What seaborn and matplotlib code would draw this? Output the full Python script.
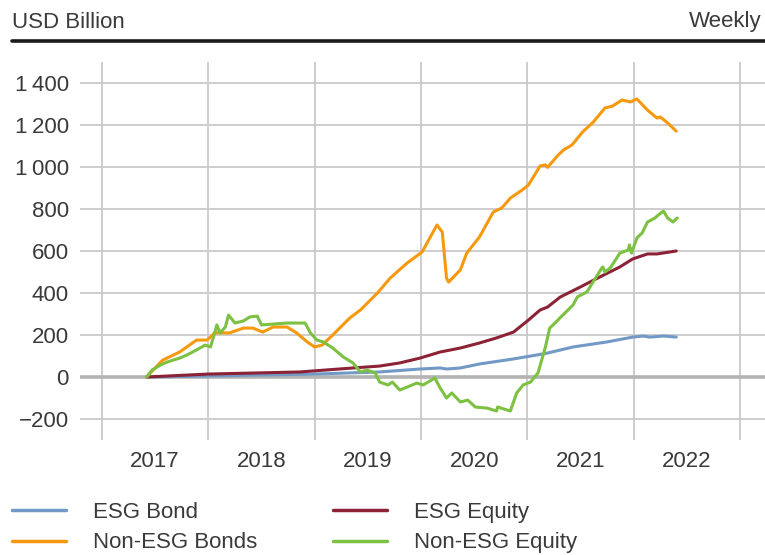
import matplotlib.pyplot as plt
import matplotlib.ticker as mticker
from matplotlib.lines import Line2D
import seaborn as sns
import pandas as pd

# ---- data (USD bn; x = decimal year) ----
esg_bond_x = [2017.42, 2018.00, 2019.00, 2019.61, 2019.99, 2020.18, 2020.24, 2020.37,
              2020.55, 2020.87, 2021.09, 2021.19, 2021.43, 2021.75, 2021.99, 2022.09,
              2022.15, 2022.28, 2022.40]
esg_bond_y = [0, 5, 14, 24, 38, 43, 38, 43, 62, 86, 105, 114, 143, 167, 190, 195, 190, 195, 190]

esg_equity_x = [2017.42, 2018.00, 2018.86, 2019.36, 2019.61, 2019.80, 2019.99, 2020.18,
                2020.37, 2020.55, 2020.71, 2020.87, 2021.01, 2021.12, 2021.19, 2021.31,
                2021.50, 2021.68, 2021.87, 2021.99, 2022.13, 2022.22, 2022.40]
esg_equity_y = [0, 14, 24, 43, 52, 67, 90, 119, 138, 162, 186, 214, 271, 319, 333, 381,
                429, 476, 524, 562, 586, 586, 600]

nonesg_bonds_x = [2017.42, 2017.55, 2017.57, 2017.73, 2017.89, 2017.99, 2018.06, 2018.20,
                  2018.33, 2018.42, 2018.51, 2018.61, 2018.74, 2018.83, 2018.93, 2019.00,
                  2019.07, 2019.17, 2019.33, 2019.43, 2019.59, 2019.71, 2019.87, 2020.01,
                  2020.15, 2020.20, 2020.24, 2020.26, 2020.37, 2020.43, 2020.55, 2020.68,
                  2020.76, 2020.84, 2020.95, 2021.01, 2021.12, 2021.17, 2021.19, 2021.29,
                  2021.34, 2021.42, 2021.52, 2021.62, 2021.73, 2021.80, 2021.89, 2021.97,
                  2022.03, 2022.13, 2022.22, 2022.25, 2022.31, 2022.40]
nonesg_bonds_y = [0, 70, 80, 119, 176, 176, 210, 210, 233, 233, 214, 238, 238, 210, 167, 143,
                  152, 200, 281, 319, 400, 471, 543, 595, 724, 690, 471, 452, 510, 590, 667,
                  786, 805, 852, 890, 914, 1005, 1010, 998, 1057, 1081, 1105, 1167, 1214,
                  1281, 1290, 1319, 1310, 1324, 1271, 1233, 1238, 1214, 1171]

nonesg_equity_x = [2017.42, 2017.47, 2017.55, 2017.61, 2017.73, 2017.80, 2017.89, 2017.97,
                   2018.02, 2018.06, 2018.08, 2018.11, 2018.16, 2018.19, 2018.25, 2018.33,
                   2018.39, 2018.46, 2018.50, 2018.61, 2018.74, 2018.83, 2018.91, 2018.96,
                   2019.02, 2019.08, 2019.17, 2019.27, 2019.36, 2019.43, 2019.49, 2019.57,
                   2019.61, 2019.69, 2019.73, 2019.80, 2019.87, 2019.96, 2020.02, 2020.13,
                   2020.18, 2020.24, 2020.29, 2020.37, 2020.44, 2020.51, 2020.62, 2020.71,
                   2020.72, 2020.84, 2020.90, 2020.96, 2021.03, 2021.10, 2021.17, 2021.21,
                   2021.26, 2021.31, 2021.43, 2021.47, 2021.56, 2021.70, 2021.71, 2021.73,
                   2021.78, 2021.87, 2021.95, 2021.96, 2021.98, 2022.03, 2022.08, 2022.13,
                   2022.20, 2022.23, 2022.28, 2022.32, 2022.37, 2022.41]
nonesg_equity_y = [0, 33, 57, 71, 90, 105, 129, 152, 143, 210, 248, 210, 238, 295, 257, 267,
                   286, 290, 248, 252, 257, 257, 257, 210, 176, 167, 138, 95, 67, 24, 33, 19,
                   -24, -38, -24, -62, -48, -29, -38, -5, -52, -100, -76, -119, -110, -143,
                   -148, -162, -143, -162, -76, -38, -24, 19, 143, 233, 257, 283, 343, 381,
                   405, 519, 524, 500, 519, 590, 605, 629, 590, 662, 686, 738, 757, 771,
                   790, 757, 738, 757]

series_names = ["ESG Bond", "ESG Equity", "Non-ESG Bonds", "Non-ESG Equity"]
colors = ["#7299c6", "#8b2236", "#f7990f", "#7cc142"]
years = [2017, 2018, 2019, 2020, 2021, 2022]
y_ticks = [-200, 0, 200, 400, 600, 800, 1000, 1200, 1400]

frames = []
for name, xs, ys in zip(series_names,
                        [esg_bond_x, esg_equity_x, nonesg_bonds_x, nonesg_equity_x],
                        [esg_bond_y, esg_equity_y, nonesg_bonds_y, nonesg_equity_y]):
    frames.append(pd.DataFrame({"year": xs, "value": ys, "series": name}))
df = pd.concat(frames, ignore_index=True)

# ---- style ----
sns.set_theme(style="white")
plt.rcParams["font.family"] = ["Liberation Sans", "DejaVu Sans"]
text_col = "#3a3a3a"
fs = 16

fig = plt.figure(figsize=(7.65, 5.55), dpi=100)
ax = fig.add_axes([80 / 765, 1 - 440 / 555, 685 / 765, 378 / 555])

sns.lineplot(data=df, x="year", y="value", hue="series", hue_order=series_names,
             palette=dict(zip(series_names, colors)), estimator=None, sort=True,
             linewidth=2.2, legend=False, ax=ax, zorder=3)

ax.set_xlim(2016.793, 2023.235)
ax.set_ylim(-300, 1500)

# year boundaries as gridlines, labels centred in each year
ax.xaxis.set_major_locator(mticker.FixedLocator(list(range(2017, 2024))))
ax.xaxis.set_major_formatter(mticker.NullFormatter())
ax.xaxis.set_minor_locator(mticker.FixedLocator([y + 0.5 for y in years]))
ax.xaxis.set_minor_formatter(mticker.FixedFormatter([str(y) for y in years]))
ax.tick_params(axis="x", which="both", length=0, pad=8, labelsize=fs, labelcolor=text_col)

ax.set_yticks(y_ticks)
def fmt(v, pos):
    s = f"{abs(int(v)):,}".replace(",", "\u2009")
    return ("\u2212" if v < 0 else "") + s
ax.yaxis.set_major_formatter(mticker.FuncFormatter(fmt))
ax.tick_params(axis="y", length=0, pad=8, labelsize=fs, labelcolor=text_col)

ax.grid(True, which="major", color="#c9c9c9", linewidth=1.3)
ax.axhline(0, color="#b3b3b3", linewidth=2.6, zorder=2)
for s in ax.spines.values():
    s.set_visible(False)
ax.set_xlabel("")
ax.set_ylabel("")

# header
fig.text(12 / 765, 1 - 22 / 555, "USD Billion", ha="left", va="center",
         fontsize=fs, color=text_col)
fig.text(762 / 765, 1 - 22 / 555, "Weekly", ha="right", va="center",
         fontsize=fs, color=text_col)
fig.add_artist(Line2D([12 / 765, 1.0], [1 - 41 / 555, 1 - 41 / 555],
                      transform=fig.transFigure, color="#1a1a1a", linewidth=2.6))

# legend
handles = [Line2D([], [], color=c, linewidth=2.5) for c in colors]
leg = fig.legend([handles[0], handles[2], handles[1], handles[3]],
                 ["ESG Bond", "Non-ESG Bonds", "ESG Equity", "Non-ESG Equity"],
                 ncol=2, loc="upper left", bbox_to_anchor=(12 / 765, 1 - 502 / 555),
                 frameon=False, fontsize=fs, handlelength=2.45, handletextpad=1.2,
                 columnspacing=3.4, labelspacing=0.42, borderaxespad=0, borderpad=0)
for t in leg.get_texts():
    t.set_color(text_col)

fig.savefig("out.png", dpi=100)
